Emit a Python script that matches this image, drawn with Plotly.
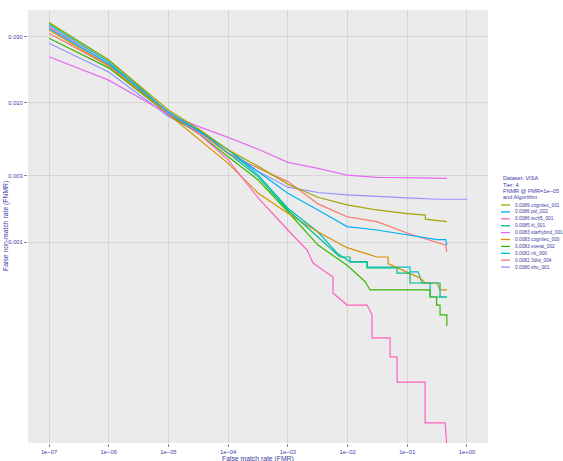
import plotly.graph_objects as go

# ---------------- data ----------------
algorithms = ["cognitec_001", "psl_002", "tech5_001", "iit_001", "starhybrid_001",
              "cognitec_000", "everai_002", "ntt_000", "3divi_004", "shu_001"]
fnmr_at_1e5 = [0.0089, 0.0086, 0.0086, 0.0085, 0.0083, 0.0083, 0.0083, 0.0082, 0.0082, 0.0080]
colors = ["#A3A500", "#00B0F6", "#FF62BC", "#00BF7D", "#E76BF3",
          "#D89000", "#39B600", "#00BFC4", "#F8766D", "#9590FF"]

fmr_cognitec_001 = [1e-7, 1e-6, 1e-5, 3.4e-5, 1e-4, 3.2e-4, 1e-3, 3.2e-3, 9.8e-3, 0.031, 0.099, 0.2, 0.2, 0.316, 0.46]
fnmr_cognitec_001 = [0.0379, 0.0204, 0.0089, 0.0064, 0.0046, 0.0035, 0.0026, 0.0021, 0.00185, 0.0017, 0.00160, 0.00156, 0.00146, 0.00142, 0.0014]

fmr_psl_002 = [1e-7, 1e-6, 1e-5, 3.4e-5, 1e-4, 3.2e-4, 1e-3, 3.2e-3, 9.8e-3, 0.031, 0.099, 0.316, 0.44, 0.46]
fnmr_psl_002 = [0.0344, 0.0191, 0.0086, 0.0062, 0.0046, 0.0032, 0.00224, 0.0017, 0.00129, 0.00122, 0.00112, 0.00104, 0.00104, 0.00095]

fmr_tech5_001 = [1e-7, 1e-6, 1e-5, 3.4e-5, 1e-4, 3.2e-4, 1e-3, 2.1e-3, 2.64e-3, 5.7e-3, 5.7e-3, 9.8e-3, 0.0212,
                 0.0257, 0.0257, 0.0515, 0.0515, 0.0675, 0.0675, 0.199, 0.199, 0.43, 0.46]
fnmr_tech5_001 = [0.0354, 0.0191, 0.0086, 0.0059, 0.0039, 0.00207, 0.00122, 0.000875, 0.000706, 0.00056, 0.00043, 0.000352, 0.000352,
                  0.000299, 0.000204, 0.000204, 0.000149, 0.000149, 0.000098, 0.000098, 0.000050, 0.000050, 0.000034]

fmr_iit_001 = [1e-7, 1e-6, 1e-5, 3.4e-5, 1e-4, 3.2e-4, 1e-3, 3.2e-3, 5.7e-3, 7.5e-3, 0.011, 0.011, 0.0212, 0.0212,
               0.0675, 0.0675, 0.111, 0.111, 0.354, 0.354, 0.464]
fnmr_iit_001 = [0.0374, 0.0204, 0.0085, 0.0063, 0.00436, 0.00294, 0.0017, 0.00109, 0.00087, 0.00078, 0.00078, 0.00072, 0.00072, 0.00065,
                0.00065, 0.000598, 0.000598, 0.000507, 0.000507, 0.000402, 0.000402]

fmr_starhybrid_001 = [1e-7, 1e-6, 1e-5, 3.4e-5, 1e-4, 3.2e-4, 1e-3, 3.2e-3, 9.8e-3, 0.031, 0.099, 0.46]
fnmr_starhybrid_001 = [0.0215, 0.0146, 0.0083, 0.0067, 0.00566, 0.00465, 0.00374, 0.00339, 0.00303, 0.00292, 0.0029, 0.00287]

fmr_cognitec_000 = [1e-7, 1e-6, 1e-5, 3.4e-5, 1e-4, 3.2e-4, 1e-3, 3.2e-3, 9.8e-3, 0.0312, 0.0477, 0.0477, 0.099, 0.164, 0.2,
                    0.316, 0.354, 0.464]
fnmr_cognitec_000 = [0.0335, 0.0185, 0.0083, 0.0054, 0.00368, 0.00224, 0.00161, 0.00118, 0.00091, 0.00078, 0.00078, 0.00070, 0.00061, 0.00055, 0.000507,
                     0.000507, 0.000452, 0.000452]

fmr_everai_002 = [1e-7, 1e-6, 1e-5, 3.4e-5, 1e-4, 3.2e-4, 1e-3, 3.2e-3, 9.8e-3, 0.0196, 0.0238, 0.241, 0.241, 0.31, 0.31,
                  0.354, 0.354, 0.46, 0.46]
fnmr_everai_002 = [0.0292, 0.0179, 0.0083, 0.0059, 0.00411, 0.00279, 0.00165, 0.00095, 0.00068, 0.00052, 0.000452, 0.000452, 0.000402, 0.000402, 0.000352,
                   0.000352, 0.000299, 0.000299, 0.000249]

fmr_ntt_000 = [1e-7, 1e-6, 1e-5, 3.4e-5, 1e-4, 3.2e-4, 1e-3, 3.2e-3, 6.7e-3, 0.011, 0.0212, 0.0212, 0.111, 0.111, 0.152,
               0.177, 0.241, 0.241, 0.464]
fnmr_ntt_000 = [0.0364, 0.0197, 0.0082, 0.0063, 0.0046, 0.00303, 0.00175, 0.00118, 0.00083, 0.00072, 0.00072, 0.00066, 0.00066, 0.00061, 0.00061,
                0.000507, 0.000507, 0.000402, 0.000402]

fmr_3divi_004 = [1e-7, 1e-6, 1e-5, 3.4e-5, 1e-4, 3.2e-4, 1e-3, 3.2e-3, 9.8e-3, 0.031, 0.099, 0.316, 0.44, 0.46]
fnmr_3divi_004 = [0.0317, 0.0185, 0.0082, 0.0061, 0.00434, 0.00339, 0.00272, 0.00188, 0.00152, 0.0014, 0.00116, 0.0010, 0.00095, 0.00085]

fmr_shu_001 = [1e-7, 1e-6, 1e-5, 3.4e-5, 1e-4, 3.2e-4, 1e-3, 3.2e-3, 9.8e-3, 0.031, 0.099, 0.316, 1.0]
fnmr_shu_001 = [0.0269, 0.0167, 0.0080, 0.0061, 0.00434, 0.00321, 0.00248, 0.00227, 0.00218, 0.00212, 0.00208, 0.00203, 0.00203]

curves_fmr = [fmr_cognitec_001, fmr_psl_002, fmr_tech5_001, fmr_iit_001, fmr_starhybrid_001,
              fmr_cognitec_000, fmr_everai_002, fmr_ntt_000, fmr_3divi_004, fmr_shu_001]
curves_fnmr = [fnmr_cognitec_001, fnmr_psl_002, fnmr_tech5_001, fnmr_iit_001, fnmr_starhybrid_001,
               fnmr_cognitec_000, fnmr_everai_002, fnmr_ntt_000, fnmr_3divi_004, fnmr_shu_001]

x_tickvals = [1e-7, 1e-6, 1e-5, 1e-4, 1e-3, 1e-2, 1e-1, 1e0]
x_ticktext = ["1e\u221207", "1e\u221206", "1e\u221205", "1e\u221204", "1e\u221203", "1e\u221202", "1e\u221201", "1e+00"]
y_tickvals = [0.001, 0.003, 0.010, 0.030]
y_ticktext = ["0.001", "0.003", "0.010", "0.030"]

legend_title = ["Dataset: VISA", "Tier: 4", "FNMR @ FMR=1e\u221205", "and Algorithm"]

# ---------------- figure ----------------
W, H = 563, 461
ML, MR, MT, MB = 28, 75, 10, 18
PW, PH = W - ML - MR, H - MT - MB
TXT = "#3D3DA3"
FONT = "Liberation Sans, Arial, sans-serif"

fig = go.Figure()
draw_order = list(range(len(algorithms)))[::-1]
for i in draw_order:
    fig.add_trace(go.Scatter(x=curves_fmr[i], y=curves_fnmr[i], mode="lines",
                             line=dict(color=colors[i], width=1.2),
                             name=f"{fnmr_at_1e5[i]:.4f} {algorithms[i]}",
                             showlegend=False, hoverinfo="skip"))

def px2paper(px, py):
    return (px - ML) / PW, (H - MB - py) / PH

annotations = []
shapes = []
# legend title
for k, t in enumerate(legend_title):
    xp, yp = px2paper(500.5, 178 + k * 6.5)
    annotations.append(dict(text=t, x=xp, y=yp, xref="paper", yref="paper",
                            xanchor="left", yanchor="middle", showarrow=False,
                            font=dict(size=5.6, color=TXT, family=FONT)))
# legend entries
for i, name in enumerate(algorithms):
    yc = 205 + i * 6.9
    x0, y0 = px2paper(501, yc)
    x1, _ = px2paper(510, yc)
    shapes.append(dict(type="line", xref="paper", yref="paper", x0=x0, x1=x1, y0=y0, y1=y0,
                       line=dict(color=colors[i], width=1.3)))
    xt, yt = px2paper(512.5, yc)
    annotations.append(dict(text=f"{fnmr_at_1e5[i]:.4f} {name}", x=xt, y=yt, xref="paper", yref="paper",
                            xanchor="left", yanchor="middle", showarrow=False,
                            font=dict(size=4.8, color=TXT, family=FONT)))
# axis titles
xt_x, xt_y = px2paper(258, 458.5)
annotations.append(dict(text="False match rate (FMR)", x=xt_x, y=xt_y, xref="paper", yref="paper",
                        xanchor="center", yanchor="middle", showarrow=False,
                        font=dict(size=6.8, color=TXT, family=FONT)))
yt_x, yt_y = px2paper(6, 226)
annotations.append(dict(text="False non-match rate (FNMR)", x=yt_x, y=yt_y, xref="paper", yref="paper",
                        xanchor="center", yanchor="middle", textangle=-90, showarrow=False,
                        font=dict(size=6.8, color=TXT, family=FONT)))

fig.update_layout(
    width=W, height=H,
    margin=dict(l=ML, r=MR, t=MT, b=MB, pad=0),
    paper_bgcolor="white", plot_bgcolor="#EBEBEB",
    font=dict(family=FONT, size=6.5, color=TXT),
    showlegend=False,
    annotations=annotations, shapes=shapes,
)
fig.update_xaxes(type="log", range=[-7.352, 0.352], tickvals=x_tickvals, ticktext=x_ticktext,
                 showgrid=True, gridcolor="#D6D6D6", gridwidth=1, zeroline=False,
                 ticks="outside", ticklen=3, tickcolor="#8A8A8A", tickwidth=1,
                 tickfont=dict(size=5.8, color=TXT, family=FONT), showline=False,
                 automargin=False)
fig.update_yaxes(type="log", range=[-4.446, -1.331], tickvals=y_tickvals, ticktext=y_ticktext,
                 showgrid=True, gridcolor="#D6D6D6", gridwidth=1, zeroline=False,
                 ticks="outside", ticklen=3, tickcolor="#8A8A8A", tickwidth=1,
                 tickfont=dict(size=5.8, color=TXT, family=FONT), showline=False,
                 automargin=False)

fig.write_html("out.html")
